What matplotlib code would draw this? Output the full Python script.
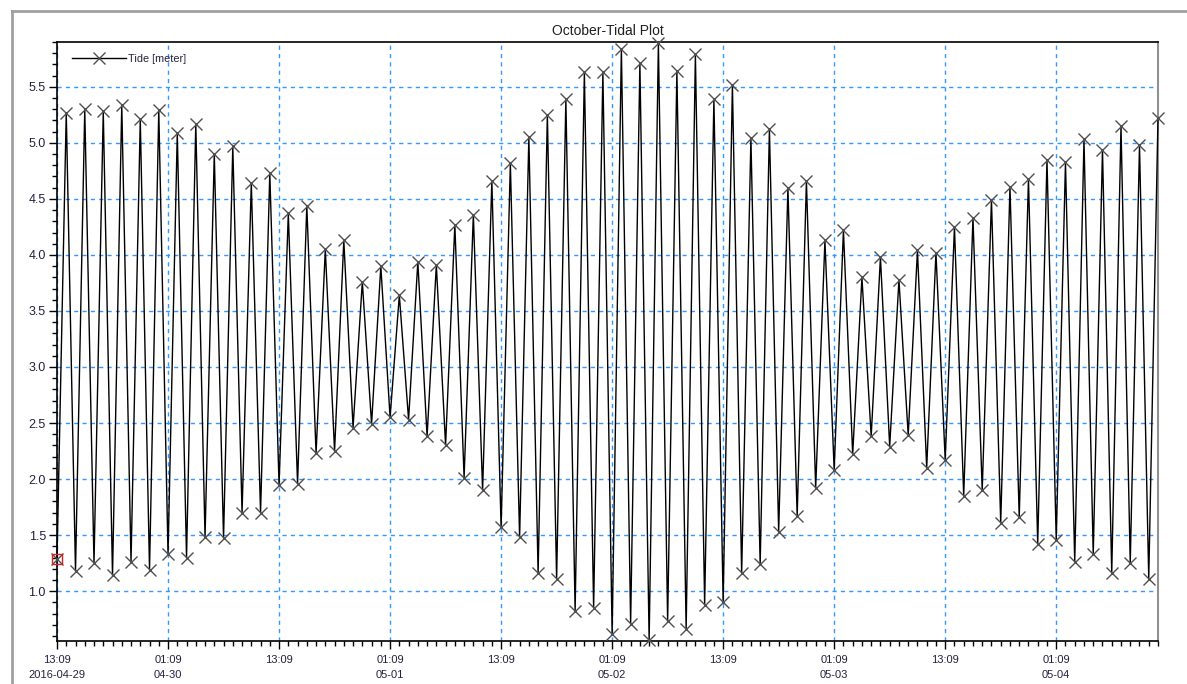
import numpy as np
import pandas as pd
import matplotlib
matplotlib.use('Agg')
import matplotlib.pyplot as plt
from matplotlib.lines import Line2D
from matplotlib.ticker import MultipleLocator, FixedLocator, FixedFormatter

# 潮位データ（1時間ごと）
start = '2016-04-29 13:09'
tide = [
    1.29, 5.27, 1.18, 5.30, 1.25, 5.28, 1.14, 5.34, 1.26, 5.21, 1.19, 5.29,
    1.33, 5.09, 1.30, 5.17, 1.48, 4.90, 1.47, 4.97, 1.70, 4.64, 1.70, 4.73,
    1.95, 4.37, 1.96, 4.44, 2.23, 4.05, 2.25, 4.13, 2.46, 3.76, 2.49, 3.90,
    2.55, 3.64, 2.53, 3.94, 2.38, 3.91, 2.30, 4.27, 2.01, 4.36, 1.90, 4.66,
    1.57, 4.82, 1.48, 5.05, 1.16, 5.25, 1.11, 5.39, 0.82, 5.63, 0.85, 5.63,
    0.62, 5.84, 0.71, 5.71, 0.56, 5.89, 0.73, 5.64, 0.66, 5.79, 0.88, 5.39,
    0.90, 5.52, 1.16, 5.04, 1.24, 5.12, 1.53, 4.60, 1.67, 4.66, 1.92, 4.13,
    2.08, 4.22, 2.22, 3.80, 2.38, 3.98, 2.29, 3.78, 2.39, 4.04, 2.10, 4.02,
    2.17, 4.25, 1.85, 4.33, 1.90, 4.49, 1.61, 4.61, 1.66, 4.68, 1.42, 4.85,
    1.46, 4.83, 1.26, 5.03, 1.33, 4.94, 1.16, 5.15, 1.25, 4.98, 1.11, 5.22,
]
times = pd.date_range(start, periods=len(tide), freq='h')
hours = np.arange(len(tide))

# x軸ラベル（12時間ごと）
major_idx = list(range(0, len(tide), 12))
x_labels = []
prev_day = None
for i in major_idx:
    t = times[i]
    if prev_day is None:
        x_labels.append(t.strftime('%H:%M') + '\n' + t.strftime('%Y-%m-%d'))
    elif t.day != prev_day:
        x_labels.append(t.strftime('%H:%M') + '\n' + t.strftime('%m-%d'))
    else:
        x_labels.append(t.strftime('%H:%M'))
    prev_day = t.day

plt.rcParams['font.family'] = ['Liberation Sans', 'DejaVu Sans']
label_color = '#22223e'
grid_color = '#3398ff'

fig = plt.figure(figsize=(11.87, 6.84), dpi=100)
ax = fig.add_axes([57 / 1187, 1 - 641 / 684, (1158 - 57) / 1187, (641 - 42) / 684])

ax.plot(hours, tide, color='black', lw=1.0, marker='x', markersize=8.5,
        markeredgecolor='#505050', markeredgewidth=1.0, label='Tide [meter]',
        clip_on=False, zorder=3)
# 選択中の点
ax.plot(hours[0], tide[0], marker='s', markersize=7, markerfacecolor='none',
        markeredgecolor='#e02020', markeredgewidth=1.0, clip_on=False, zorder=4)

ax.set_xlim(hours[0], hours[-1])
ax.set_ylim(0.555, 5.9)

ax.xaxis.set_major_locator(FixedLocator(major_idx))
ax.xaxis.set_major_formatter(FixedFormatter(x_labels))
ax.xaxis.set_minor_locator(MultipleLocator(1))
ax.yaxis.set_major_locator(MultipleLocator(0.5))
ax.yaxis.set_minor_locator(MultipleLocator(0.1))
ax.yaxis.set_major_formatter(matplotlib.ticker.FormatStrFormatter('%.1f'))

ax.tick_params(axis='both', which='major', length=6, width=1, color='black',
               labelcolor=label_color, direction='out')
ax.tick_params(axis='both', which='minor', length=3.5, width=1, color='black', direction='out')
ax.tick_params(axis='x', which='major', pad=4, labelsize=8)
ax.tick_params(axis='y', which='major', pad=2, labelsize=9)
for lab in ax.get_xticklabels():
    lab.set_linespacing(1.6)

ax.grid(True, which='major', color=grid_color, linestyle=(0, (3, 3)), lw=1.0)
for s in ['left', 'top', 'bottom']:
    ax.spines[s].set_color('black')
    ax.spines[s].set_linewidth(1.2)
ax.spines['right'].set_color('#909090')
ax.spines['right'].set_linewidth(1.5)

ax.set_title('October-Tidal Plot', fontsize=10, color='#202020', pad=5)

leg = ax.legend(loc='upper left', frameon=False, fontsize=7.8, handlelength=5.0,
                handletextpad=0.15, bbox_to_anchor=(0.007, 0.993), borderaxespad=0.3)
for t in leg.get_texts():
    t.set_color(label_color)

# ウィンドウ枠
fig.add_artist(Line2D([12 / 1187, 1.0], [1 - 11 / 684, 1 - 11 / 684], color='#a0a0a0', lw=2))
fig.add_artist(Line2D([12 / 1187, 12 / 1187], [0.0, 1 - 11 / 684], color='#a0a0a0', lw=2))

plt.savefig('out.png', dpi=100)
